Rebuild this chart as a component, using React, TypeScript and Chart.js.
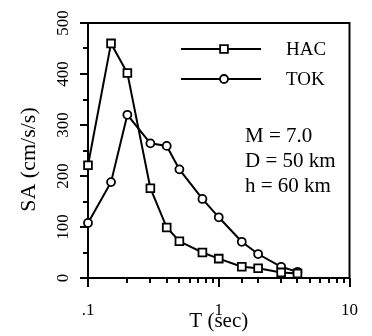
import React, { useEffect, useRef } from 'react';
import { Chart, registerables } from 'chart.js';

Chart.register(...registerables);

// ---- data ----
const periods = [0.1, 0.15, 0.2, 0.3, 0.4, 0.5, 0.75, 1.0, 1.5, 2.0, 3.0, 4.0];
const hacValues = [221, 460, 402, 176, 99, 72, 50, 38, 22, 19, 11, 9];
const tokValues = [108, 188, 320, 264, 259, 213, 155, 119, 71, 47, 22, 12];
const seriesNames = ['HAC', 'TOK'];
const xTickLabels = ['.1', '1', '10']; // decades 10^-1, 10^0, 10^1
const yTickLabels = ['0', '100', '200', '300', '400', '500'];
const annotationLines = ['M = 7.0', 'D = 50 km', 'h = 60 km'];
const xTitle = 'T (sec)';
const yTitle = 'SA (cm/s/s)';

const FONT = 'Liberation Serif, Times New Roman, serif';

const isDecade = (v: number) => {
  const l = Math.log10(v);
  return Math.abs(l - Math.round(l)) < 1e-6;
};

const framePlugin = {
  id: 'frameTicks',
  afterDraw(chart: any) {
    const { ctx, chartArea, scales } = chart;
    const { left, top, right, bottom } = chartArea;
    const xs = scales.x;
    const ys = scales.y;
    ctx.save();
    ctx.strokeStyle = '#000';
    ctx.lineWidth = 2;
    ctx.lineCap = 'butt';
    ctx.beginPath();
    ctx.moveTo(left - 1, top);
    ctx.lineTo(right, top);
    ctx.lineTo(right, bottom + 1);
    ctx.stroke();
    ctx.beginPath();
    xs.ticks.forEach((t: any) => {
      const px = Math.round(xs.getPixelForValue(t.value));
      const len = isDecade(t.value) ? 9 : 5;
      ctx.moveTo(px, bottom);
      ctx.lineTo(px, bottom + len);
    });
    ys.ticks.forEach((t: any) => {
      const py = Math.round(ys.getPixelForValue(t.value));
      const len = t.value % 100 === 0 ? 8 : 5;
      ctx.moveTo(left, py);
      ctx.lineTo(left - len, py);
    });
    ctx.stroke();

    // y-axis title
    ctx.save();
    ctx.fillStyle = '#000';
    ctx.font = `22px ${FONT}`;
    ctx.textAlign = 'center';
    ctx.textBaseline = 'middle';
    ctx.translate(left - 59, (top + bottom) / 2 + 9);
    ctx.rotate(-Math.PI / 2);
    ctx.fillText(yTitle, 0, 0);
    ctx.restore();

    // legend
    const legendRows = [
      { name: seriesNames[0], style: 'rect', y: top + 26 },
      { name: seriesNames[1], style: 'circle', y: top + 56 },
    ];
    ctx.font = `19px ${FONT}`;
    ctx.fillStyle = '#000';
    ctx.textBaseline = 'middle';
    ctx.textAlign = 'left';
    legendRows.forEach((r) => {
      ctx.beginPath();
      ctx.lineWidth = 2;
      ctx.moveTo(left + 93, r.y);
      ctx.lineTo(left + 173, r.y);
      ctx.stroke();
      const cx = left + 136;
      ctx.beginPath();
      ctx.lineWidth = 1.8;
      ctx.fillStyle = '#fff';
      if (r.style === 'rect') {
        ctx.rect(cx - 3.9, r.y - 3.9, 7.8, 7.8);
      } else {
        ctx.arc(cx, r.y, 4, 0, Math.PI * 2);
      }
      ctx.fill();
      ctx.stroke();
      ctx.fillStyle = '#000';
      ctx.fillText(r.name, left + 198, r.y + 1);
    });

    // annotation
    ctx.font = `21px ${FONT}`;
    ctx.textBaseline = 'alphabetic';
    annotationLines.forEach((line, i) => {
      ctx.fillText(line, left + 157, top + 119 + i * 25);
    });
    ctx.restore();
  },
};

export default function App() {
  const ref = useRef<HTMLCanvasElement | null>(null);
  useEffect(() => {
    if (!ref.current) return;
    const mk = (vals: number[]) => periods.map((p, i) => ({ x: p, y: vals[i] }));
    const chart = new Chart(ref.current, {
      type: 'line',
      data: {
        datasets: [
          {
            label: seriesNames[0],
            data: mk(hacValues),
            borderColor: '#000',
            borderWidth: 2,
            pointStyle: 'rect',
            pointRadius: 5.5,
            pointBackgroundColor: '#fff',
            pointBorderColor: '#000',
            pointBorderWidth: 1.8,
            tension: 0,
            clip: false as any,
          },
          {
            label: seriesNames[1],
            data: mk(tokValues),
            borderColor: '#000',
            borderWidth: 2,
            pointStyle: 'circle',
            pointRadius: 4,
            pointBackgroundColor: '#fff',
            pointBorderColor: '#000',
            pointBorderWidth: 1.8,
            tension: 0,
            clip: false as any,
          },
        ],
      },
      options: {
        responsive: false,
        animation: false,
        devicePixelRatio: 1,
        layout: { padding: { left: 0, top: 23, right: 20, bottom: 0 } },
        plugins: { legend: { display: false }, tooltip: { enabled: false } },
        scales: {
          x: {
            type: 'logarithmic',
            min: 0.1,
            max: 10,
            afterFit: (s: any) => { s.height = 58; },
            grid: { display: false },
            border: { display: true, color: '#000', width: 2 },
            ticks: {
              autoSkip: false,
              maxRotation: 0,
              minRotation: 0,
              padding: 14,
              color: '#000',
              font: { family: FONT, size: 17 },
              callback: (v: any) => {
                const n = Number(v);
                if (!isDecade(n)) return '';
                const e = Math.round(Math.log10(n));
                return xTickLabels[e + 1] ?? '';
              },
            },
            title: {
              display: true,
              text: xTitle,
              color: '#000',
              font: { family: FONT, size: 21 },
              padding: { top: 0, bottom: 2 },
            },
          },
          y: {
            type: 'linear',
            min: 0,
            max: 500,
            afterFit: (s: any) => { s.width = 88; },
            grid: { display: false },
            border: { display: true, color: '#000', width: 2 },
            ticks: {
              stepSize: 50,
              autoSkip: false,
              minRotation: 90,
              maxRotation: 90,
              crossAlign: 'center',
              padding: 4,
              color: '#000',
              font: { family: FONT, size: 17 },
              callback: (v: any) => {
                const n = Number(v);
                return n % 100 === 0 ? yTickLabels[n / 100] : '';
              },
            },
            title: { display: false },
          },
        },
      },
      plugins: [framePlugin],
    });
    return () => chart.destroy();
  }, []);
  return (
    <div style={{ position: 'absolute', left: 0, top: 0, width: 372, height: 336, background: '#fff' }}>
      <canvas ref={ref} width={372} height={336} style={{ width: 372, height: 336 }} />
    </div>
  );
}
